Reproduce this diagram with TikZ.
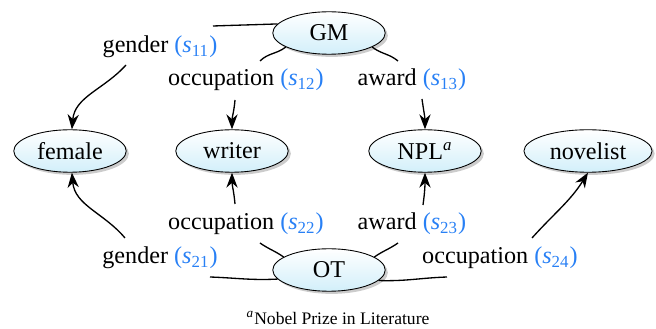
\documentclass[tikz,border=0pt]{standalone}
\usepackage{fontspec}
\setmainfont{Liberation Serif}
\usepackage{tikz}
\usetikzlibrary{arrows.meta,shapes.geometric,shadows}
\definecolor{slotblue}{RGB}{40,128,245}
\definecolor{entfill}{RGB}{210,239,250}
\newcommand{\slotlabel}[2]{#1 \textcolor{slotblue}{(\textit{s}\textsubscript{#2})}}

\begin{document}
\begin{tikzpicture}[x=0.016cm, y=-0.016cm, font=\fontsize{11}{13}\selectfont,
    ent/.style={ellipse, draw, top color=white, bottom color=entfill,
        drop shadow={opacity=0.4, shadow xshift=1.2pt, shadow yshift=-1.2pt},
        minimum width=1.8cm, minimum height=0.68cm, inner sep=1pt},
    rel/.style={-{Stealth[length=2.4mm, width=1.8mm]}, semithick},
    seg/.style={semithick},
    lbl/.style={inner sep=0pt}]
    \useasboundingbox (0,0) rectangle (656,329);

    % Entities
    \node[ent] (GM) at (329,33) {GM};
    \node[ent] (OT) at (329,270) {OT};
    \node[ent] (female) at (70,151) {female};
    \node[ent] (writer) at (232,151) {writer};
    \node[ent] (NPL) at (425,151) {NPL\textsuperscript{\textit{a}}};
    \node[ent, minimum width=2.05cm] (novelist) at (588,151) {novelist};

    % Relation labels
    \node[lbl] (g11) at (160,47) {\slotlabel{gender}{11}};
    \node[lbl] (o12) at (246,80) {\slotlabel{occupation}{12}};
    \node[lbl] (a13) at (412,80) {\slotlabel{award}{13}};
    \node[lbl] (g21) at (160,258) {\slotlabel{gender}{21}};
    \node[lbl] (o22) at (246,224) {\slotlabel{occupation}{22}};
    \node[lbl] (a23) at (412,224) {\slotlabel{award}{23}};
    \node[lbl] (o24) at (500,258) {\slotlabel{occupation}{24}};

    % Free ends next to the labels
    \coordinate (g11in) at (213,26);  \coordinate (g11out) at (126,65);
    \coordinate (o12in) at (260,61);  \coordinate (o12out) at (235,100);
    \coordinate (a13in) at (398,61);  \coordinate (a13out) at (422,99);
    \coordinate (g21in) at (210,277); \coordinate (g21out) at (125,238);
    \coordinate (o22in) at (260,243); \coordinate (o22out) at (235,204);
    \coordinate (a23in) at (398,243); \coordinate (a23out) at (423,205);
    \coordinate (o24in) at (447,277); \coordinate (o24out) at (532,238);

    % Relations of GM
    \draw[seg] (GM.170) to[out=182, in=2] (g11in);
    \draw[rel] (g11out) to[out=228, in=85] (female);
    \draw[seg] (GM.198) to[out=218, in=45] (o12in);
    \draw[rel] (o12out) to[out=-95, in=90] (writer);
    \draw[seg] (GM.342) to[out=-38, in=140] (a13in);
    \draw[rel] (a13out) to[out=-82, in=90] (NPL);

    % Relations of OT
    \draw[seg] (OT.190) to[out=183, in=-2] (g21in);
    \draw[rel] (g21out) to[out=130, in=-85] (female);
    \draw[seg] (OT.164) to[out=145, in=-35] (o22in);
    \draw[rel] (o22out) to[out=95, in=-90] (writer);
    \draw[seg] (OT.16) to[out=35, in=-145] (a23in);
    \draw[rel] (a23out) to[out=82, in=-90] (NPL);
    \draw[seg] (OT.348) to[out=-2, in=182] (o24in);
    \draw[rel] (o24out) to[out=48, in=-122] (novelist.south);

    % Footnote
    \node[font=\fontsize{8}{10}\selectfont] (note) at (338,318) {\textsuperscript{\textit{a}}Nobel Prize in Literature};
\end{tikzpicture}
\end{document}
